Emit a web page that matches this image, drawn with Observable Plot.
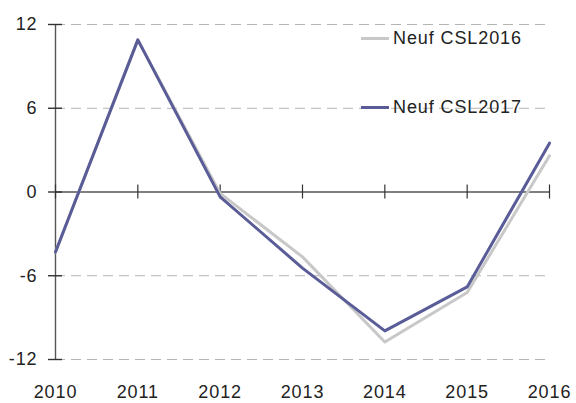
<!DOCTYPE html>
<html>
<head>
<meta charset="utf-8">
<script src="https://cdn.jsdelivr.net/npm/d3@7"></script>
<script src="https://cdn.jsdelivr.net/npm/@observablehq/plot@0.6"></script>
<style>
  body { margin: 0; background: #fff; }
  #wrap { position: relative; width: 576px; height: 403px; font-family: "Liberation Sans", Arial, sans-serif; }
  .leg { position: absolute; left: 361px; display: flex; align-items: center; font-size: 18px; letter-spacing: 0.9px; color: #222; }
  .leg span.sw { display: inline-block; width: 28px; height: 3px; margin-right: 4px; }
</style>
</head>
<body>
<div id="wrap"></div>
<script>
const years = [2010, 2011, 2012, 2013, 2014, 2015, 2016];
const csl2016 = [-4.3, 10.9, -0.1, -4.65, -10.75, -7.2, 2.6];
const csl2017 = [-4.3, 10.9, -0.35, -5.45, -9.95, -6.8, 3.5];
const yTicks = [-12, -6, 0, 6, 12];
const gridTicks = [-12, -6, 6, 12];
const seriesNames = ["Neuf CSL2016", "Neuf CSL2017"];
const colors = ["#c8c8c8", "#5a5c97"];

const d16 = years.map((y, i) => ({year: y, value: csl2016[i]}));
const d17 = years.map((y, i) => ({year: y, value: csl2017[i]}));

const axisColor = "#555";
const plot = Plot.plot({
  width: 576,
  height: 403,
  marginLeft: 55,
  marginRight: 27,
  marginTop: 24,
  marginBottom: 44,
  style: {fontFamily: "Liberation Sans, Arial, sans-serif", fontSize: "18px", color: "#222", letterSpacing: "0.9px"},
  x: {domain: [2010, 2016]},
  y: {domain: [-12, 12]},
  marks: [
    Plot.ruleY(gridTicks, {x1: 2010, x2: 2016, stroke: "#b4b4b4", strokeWidth: 1.2, strokeDasharray: "10,6", insetRight: -1}),
    Plot.ruleY([0], {x1: 2010, x2: 2016, stroke: axisColor, strokeWidth: 1.4, insetRight: -1}),
    Plot.ruleX([2010], {y1: -12, y2: 12, stroke: axisColor, strokeWidth: 1.4}),
    Plot.ruleY(yTicks, {x1: 2010, x2: 2010, insetLeft: -7, insetRight: -7, stroke: "#333", strokeWidth: 1.4}),
    Plot.ruleX(years, {x: d => d, y1: 0, y2: 0, insetTop: -7, insetBottom: -7, stroke: "#333", strokeWidth: 1.2}),
    Plot.axisY({ticks: yTicks, tickSize: 0, tickPadding: 18, tickFormat: d => String(d), fontSize: 18, label: null}),
    Plot.axisX({ticks: years, tickSize: 0, tickPadding: 26, tickFormat: d => String(d), fontSize: 18, label: null}),
    Plot.line(d16, {x: "year", y: "value", stroke: colors[0], strokeWidth: 3}),
    Plot.line(d17, {x: "year", y: "value", stroke: colors[1], strokeWidth: 3})
  ]
});
const wrap = document.getElementById("wrap");
wrap.appendChild(plot);
const legTops = [28, 97];
seriesNames.forEach((n, i) => {
  const div = document.createElement("div");
  div.className = "leg";
  div.style.top = legTops[i] + "px";
  div.innerHTML = `<span class="sw" style="background:${colors[i]}"></span><span>${n}</span>`;
  wrap.appendChild(div);
});
</script>
</body>
</html>
